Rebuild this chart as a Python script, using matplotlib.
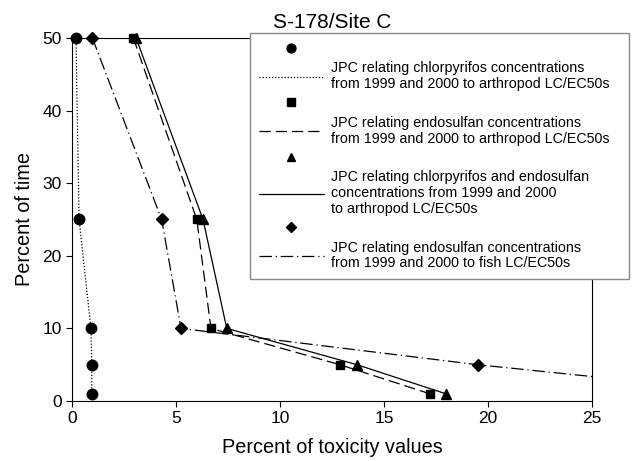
import matplotlib
matplotlib.use("Agg")
import matplotlib.pyplot as plt
from matplotlib.lines import Line2D

plt.rcParams['font.family'] = ['Liberation Sans', 'DejaVu Sans']

# percent of time (y) shared by all series
pct_time = [50, 25, 10, 5, 1]

# percent of toxicity values (x) per series
chlor_arth = [0.19, 0.34, 0.91, 0.95, 0.95]
endo_arth = [2.95, 6.0, 6.68, 12.88, 17.2]
both_arth = [3.08, 6.3, 7.44, 13.7, 17.97]
endo_fish = [0.98, 4.31, 5.24, 19.5, 33.0]

labels = [
    "JPC relating chlorpyrifos concentrations\nfrom 1999 and 2000 to arthropod LC/EC50s",
    "JPC relating endosulfan concentrations\nfrom 1999 and 2000 to arthropod LC/EC50s",
    "JPC relating chlorpyrifos and endosulfan\nconcentrations from 1999 and 2000\nto arthropod LC/EC50s",
    "JPC relating endosulfan concentrations\nfrom 1999 and 2000 to fish LC/EC50s",
]

fig = plt.figure(figsize=(6.32, 4.61), dpi=100)
ax = fig.add_axes([72 / 632, 1 - 401 / 461, 520 / 632, 363 / 461])

lw = 0.9
styles = [
    dict(marker="o", ms=7.5, ls=(0, (1, 1.5))),
    dict(marker="s", ms=6.0, ls=(0, (9, 4))),
    dict(marker="^", ms=7.0, ls="-"),
    dict(marker="D", ms=6.0, ls=(0, (10, 3, 1, 3))),
]
series = [chlor_arth, endo_arth, both_arth, endo_fish]

xmax = 25
for xs, st in zip(series, styles):
    # line clipped to the axes
    ax.plot(xs, pct_time, color="black", lw=lw, linestyle=st["ls"])
    # markers of points inside the x range, not clipped at the frame
    pts = [(x, y) for x, y in zip(xs, pct_time) if x <= xmax]
    ax.plot([p[0] for p in pts], [p[1] for p in pts], ls="none",
            color="black", marker=st["marker"], markersize=st["ms"],
            clip_on=False, zorder=3)

ax.set_xlim(0, xmax)
ax.set_ylim(0, 50)
ax.set_xticks([0, 5, 10, 15, 20, 25])
ax.set_yticks([0, 10, 20, 30, 40, 50])
ax.tick_params(labelsize=12.5, length=4, width=0.8, direction="out",
               top=False, right=False)
for s in ax.spines.values():
    s.set_linewidth(0.8)

ax.set_xlabel("Percent of toxicity values", fontsize=14.3, labelpad=8)
ax.set_ylabel("Percent of time", fontsize=14.3, labelpad=6)
ax.set_title("S-178/Site C", fontsize=15, pad=7)

# legend: marker on its own row above the line + text row
handles, leg_labels = [], []
for st, lab in zip(styles, labels):
    handles.append(Line2D([], [], color="black", ls="none",
                          marker=st["marker"], markersize=st["ms"] * 0.85))
    leg_labels.append(" ")
    handles.append(Line2D([], [], color="black", lw=lw, ls=st["ls"]))
    leg_labels.append(lab)

leg = ax.legend(handles, leg_labels, loc="upper left",
                bbox_to_anchor=(250 / 632, 1 - 38 / 461, 379 / 632, 0.01),
                bbox_transform=fig.transFigure, mode="expand",
                fontsize=10.3, handlelength=4.6, handletextpad=0.45,
                labelspacing=0.38, borderpad=0.6, frameon=True,
                fancybox=False, framealpha=1, edgecolor="#888888",
                borderaxespad=0)
leg.get_frame().set_linewidth(1.0)
for t in leg.get_texts():
    t.set_linespacing(1.15)

fig.savefig("out.png", dpi=100)
